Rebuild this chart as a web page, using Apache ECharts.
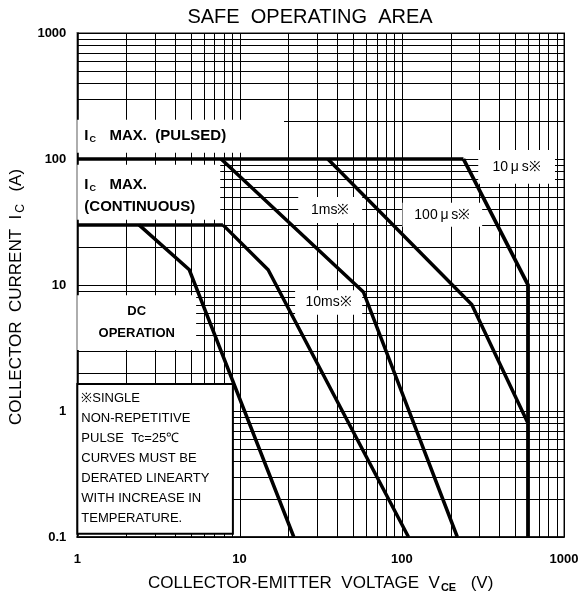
<!DOCTYPE html>
<html>
<head>
<meta charset="utf-8">
<script src="https://cdn.jsdelivr.net/npm/echarts@6/dist/echarts.min.js"></script>
<style>html,body{margin:0;background:#fff}#chart{width:587px;height:600px}</style>
</head>
<body>
<div id="chart"></div>
<script>
// 坐标轴刻度
var xTicks = [1, 10, 100, 1000];
var xTickLabels = ['1', '10', '100', '1000'];
var yTicks = [0.1, 1, 10, 100, 1000];
var yTickLabels = ['0.1', '1', '10', '100', '1000'];
// 对数网格：每个十倍程内 1..9
var gridMult = [1, 2, 3, 4, 5, 6, 7, 8, 9];
var xDecades = [1, 10, 100];
var yDecades = [0.1, 1, 10, 100];

// 曲线 [V, A]
var pulsedMax = [[1, 100], [240, 100]];
var contMax = [[1, 30], [7.9, 30]];
var line10us = [[240, 100], [600, 10], [600, 0.1]];
var line100us = [[35, 100], [270, 7], [600, 0.8]];
var line1ms = [[7.7, 100], [58, 8.8], [220, 0.1]];
var line10ms = [[7.9, 30], [15, 13.2], [110, 0.1]];
var lineDC = [[2.4, 30], [4.9, 13.2], [21.6, 0.1]];

// 标注框范围 [V0, V1, A0, A1]
var boxPulsed = [1, 18.8, 112, 205];
var boxCont = [1, 7.6, 33, 90];
var boxDC = [1, 5.4, 3.05, 8.3];
var boxNote = [1, 9.1, 0.106, 1.64];
var box10us = [296, 880, 63.5, 118];
var box1ms = [23, 57, 31, 50];
var box100us = [101, 313, 29, 45];
var box10ms = [22, 57, 5.8, 9.1];

var noteLines = ['※SINGLE', 'NON-REPETITIVE', 'PULSE  Tc=25℃', 'CURVES MUST BE',
  'DERATED LINEARTY', 'WITH INCREASE IN', 'TEMPERATURE.'];

var FONT = 'Liberation Sans, Arial, sans-serif';

var xGrid = [1000], yGrid = [1000];
xDecades.forEach(function (d) { gridMult.forEach(function (m) { xGrid.push(d * m); }); });
yDecades.forEach(function (d) { gridMult.forEach(function (m) { yGrid.push(d * m); }); });

var boldRich = {
  b: { fontFamily: FONT, fontSize: 15, fontWeight: 'bold', color: '#000', lineHeight: 22 },
  s: { fontFamily: FONT, fontSize: 9, fontWeight: 'bold', color: '#000', lineHeight: 22, padding: [7, 1, 0, 1] }
};

var boxes = [
  { ext: boxPulsed, text: '{b|I}{s|C}{b|   MAX.  (PULSED)}', align: 'left', rich: boldRich },
  { ext: boxCont, text: '{b|I}{s|C}{b|   MAX.}\n{b|(CONTINUOUS)}', align: 'left', rich: boldRich, dy: 4 },
  { ext: boxDC, text: 'DC\nOPERATION', align: 'center', font: 'bold 13px ' + FONT, lh: 22 },
  { ext: boxNote, text: noteLines.join('\n'), align: 'left', top: true, font: '13px ' + FONT, lh: 20, border: true },
  { ext: box10us, text: '10\u2009μ\u2009s※', align: 'center', font: '14px ' + FONT },
  { ext: box1ms, text: '1ms※', align: 'center', font: '14px ' + FONT },
  { ext: box100us, text: '100\u2009μ\u2009s※', align: 'center', font: '14px ' + FONT },
  { ext: box10ms, text: '10ms※', align: 'center', font: '14px ' + FONT }
];

function curve(data, w) {
  return {
    type: 'line', data: data, symbol: 'none', z: 3, silent: true, animation: false,
    lineStyle: { color: '#000', width: w || 3.5, join: 'miter' }
  };
}

var myChart = echarts.init(document.getElementById('chart'));
var option = {
  animation: false,
  backgroundColor: '#fff',
  title: {
    text: 'SAFE  OPERATING  AREA', left: 310, top: 7, padding: 0, textAlign: 'center',
    textStyle: { fontFamily: FONT, fontSize: 20, fontWeight: 'normal', color: '#000' }
  },
  grid: { left: 76, right: 23, top: 33, bottom: 63, show: true, borderColor: '#888', borderWidth: 2 },
  xAxis: {
    type: 'log', logBase: 10, min: 1, max: 1000, interval: 1,
    name: '{a|COLLECTOR-EMITTER  VOLTAGE  V}{s|CE}{a|  (V)}',
    nameLocation: 'middle', nameGap: 37,
    nameTextStyle: {
      rich: {
        a: { fontFamily: FONT, fontSize: 17, color: '#000' },
        s: { fontFamily: FONT, fontSize: 11, fontWeight: 'bold', color: '#000', padding: [8, 5, 0, 1] }
      }
    },
    axisLine: { show: true, lineStyle: { color: '#222', width: 2 } },
    axisTick: { show: false },
    splitLine: { show: false },
    axisLabel: {
      margin: 16, fontFamily: FONT, fontSize: 13, fontWeight: 'bold', color: '#000',
      formatter: function (v) { var i = xTicks.indexOf(+v); return i < 0 ? '' : xTickLabels[i]; }
    }
  },
  yAxis: {
    type: 'log', logBase: 10, min: 0.1, max: 1000, interval: 1,
    name: '{a|COLLECTOR  CURRENT  I}{s|C}{a|  (A)}',
    nameLocation: 'middle', nameRotate: 90, nameGap: 35,
    nameTextStyle: {
      padding: [0, 24, 0, 0],
      rich: {
        a: { fontFamily: FONT, fontSize: 17, color: '#000' },
        s: { fontFamily: FONT, fontSize: 12, color: '#000', padding: [8, 3, 0, 2] }
      }
    },
    axisLine: { show: true, lineStyle: { color: '#333', width: 2 } },
    axisTick: { show: false },
    splitLine: { show: false },
    axisLabel: {
      margin: 11, fontFamily: FONT, fontSize: 13, fontWeight: 'bold', color: '#000',
      formatter: function (v) {
        for (var i = 0; i < yTicks.length; i++) if (Math.abs(yTicks[i] - v) / yTicks[i] < 1e-6) return yTickLabels[i];
        return '';
      }
    }
  },
  series: [
    { // 竖直网格线
      type: 'custom', z: 1, silent: true,
      data: xGrid.map(function (v) { return [v, 1]; }),
      renderItem: function (params, api) {
        var v = api.value(0);
        var p0 = api.coord([v, 0.1]), p1 = api.coord([v, 1000]);
        var x = Math.round(p0[0]) + 0.5;
        return { type: 'line', shape: { x1: x, y1: p0[1], x2: x, y2: p1[1] }, style: { stroke: '#000', lineWidth: 1 } };
      }
    },
    { // 水平网格线
      type: 'custom', z: 1, silent: true,
      data: yGrid.map(function (v) { return [1, v]; }),
      renderItem: function (params, api) {
        var v = api.value(1);
        var p0 = api.coord([1, v]), p1 = api.coord([1000, v]);
        var y = Math.round(p0[1]) + 0.5;
        return { type: 'line', shape: { x1: p0[0], y1: y, x2: p1[0], y2: y }, style: { stroke: '#000', lineWidth: 1 } };
      }
    },
    { // 白色标注框
      type: 'custom', z: 2, silent: true,
      data: boxes.map(function (b) { return [b.ext[0], b.ext[2]]; }),
      renderItem: function (params, api) {
        var b = boxes[params.dataIndex];
        var p0 = api.coord([b.ext[0], b.ext[3]]);
        var p1 = api.coord([b.ext[1], b.ext[2]]);
        var x = p0[0], y = p0[1], w = p1[0] - p0[0], h = p1[1] - p0[1];
        var tx = b.align === 'left' ? x + (b.border ? 4 : 7) : x + w / 2;
        var ty = b.top ? y + 4 : y + h / 2 + (b.dy || 0);
        var style = {
          text: b.text, x: tx, y: ty, align: b.align,
          verticalAlign: b.top ? 'top' : 'middle', fill: '#000'
        };
        if (b.rich) style.rich = b.rich;
        if (b.font) style.font = b.font;
        if (b.lh) style.lineHeight = b.lh;
        return {
          type: 'group',
          children: [
            { type: 'rect', shape: { x: x, y: y, width: w, height: h },
              style: { fill: '#fff', stroke: b.border ? '#000' : null, lineWidth: b.border ? 2 : 0 } },
            { type: 'text', style: style }
          ]
        };
      }
    },
    curve(pulsedMax),
    curve(contMax),
    curve(line10us, 3.8),
    curve(line100us),
    curve(line1ms),
    curve(line10ms),
    curve(lineDC)
  ]
};
myChart.setOption(option);
</script>
</body>
</html>
